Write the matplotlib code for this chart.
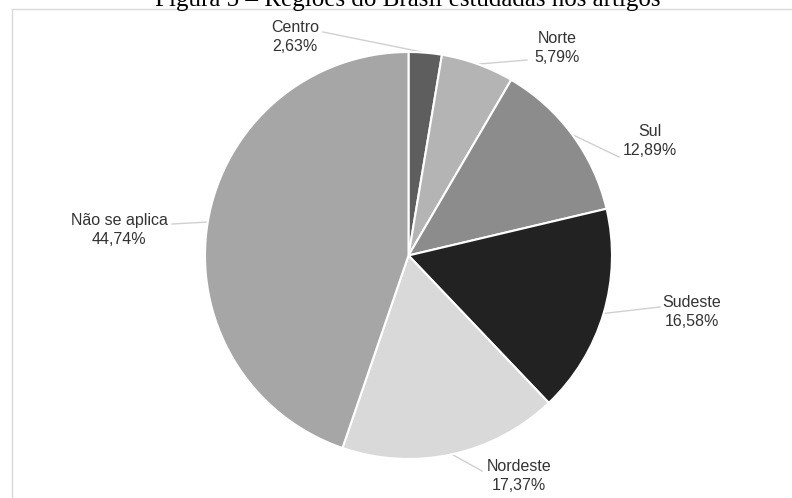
import numpy as np
import matplotlib.pyplot as plt
from matplotlib.patches import Rectangle

# dados
regioes = ["Centro", "Norte", "Sul", "Sudeste", "Nordeste", "Não se aplica"]
percentuais = [2.63, 5.79, 12.89, 16.58, 17.37, 44.74]

cores = ["#5e5e5e", "#b4b4b4", "#8c8c8c", "#222222", "#d9d9d9", "#a6a6a6"]
# centro do rotulo e inicio da linha guia, em pixels a partir do canto superior esquerdo
pos_rotulo = [(295, 37), (557, 48), (650, 141), (692, 312), (519, 476), (119, 230)]
pos_linha = [(323, 32), (527, 60), (619, 157), (660, 307), (482, 471), (172, 224)]

W, H = 792, 498
fig = plt.figure(figsize=(W / 100, H / 100), dpi=100)
cx, cy, r = 408.5, 255.5, 203.5
ax = fig.add_axes([(cx - r) / W, (H - cy - r) / H, 2 * r / W, 2 * r / H])

wedges, _ = ax.pie(percentuais, colors=cores, startangle=90, counterclock=False,
                   radius=1, wedgeprops=dict(edgecolor="white", linewidth=1.5))
ax.set_xlim(-1, 1)
ax.set_ylim(-1, 1)


def px2data(p):
    return ((p[0] - cx) / r, (cy - p[1]) / r)


for i, w in enumerate(wedges):
    ang = np.deg2rad((w.theta1 + w.theta2) / 2)
    borda = (np.cos(ang), np.sin(ang))
    ini = px2data(pos_linha[i])
    ax.plot([ini[0], borda[0]], [ini[1], borda[1]], color="#d0d0d0", lw=1,
            clip_on=False, zorder=0)
    rot = "%s\n%s%%" % (regioes[i], ("%.2f" % percentuais[i]).replace(".", ","))
    tx, ty = px2data(pos_rotulo[i])
    ax.text(tx, ty, rot, ha="center", va="center", fontsize=11.5,
            family="Liberation Sans", color="#333333", linespacing=1.3)

fig.text(408 / W, 1 - 6 / H, "Figura 5 – Regiões do Brasil estudadas nos artigos",
         ha="center", va="baseline", fontsize=18, family="Liberation Serif")

fig.patches.append(Rectangle((11.5 / W, -0.1), 2, 1.1 - 9.5 / H,
                             transform=fig.transFigure, fill=False,
                             edgecolor="#d9d9d9", lw=1))

fig.savefig("out.png", dpi=100)
